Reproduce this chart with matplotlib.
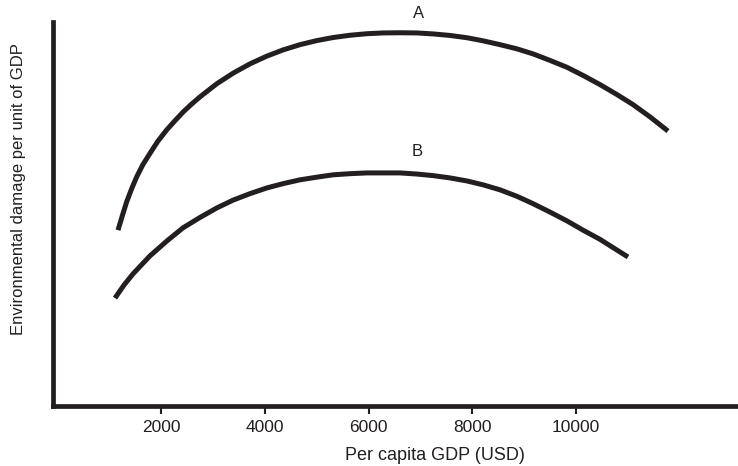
import numpy as np
import matplotlib.pyplot as plt

plt.rcParams['font.family'] = ['Liberation Sans', 'DejaVu Sans']

# curve A (upper)
gdp_a = [1170, 1257, 1338, 1431, 1531, 1652, 1787, 1941, 2109, 2269, 2429,
         2587, 2751, 3073, 3393, 3715, 4037, 4357, 4679, 5001, 5315, 5643,
         5971, 6280, 6607, 6935, 7243, 7571, 7899, 8208, 8535, 8863, 9171,
         9499, 9827, 10135, 10463, 10791, 11099, 11427, 11774]
damage_a = [45.8, 49.7, 53.2, 56.5, 59.7, 62.9, 65.8, 69.0, 71.9, 74.3, 76.6,
            78.6, 80.5, 83.9, 86.7, 89.1, 91.1, 92.75, 94.1, 95.15, 95.95, 96.55,
            96.95, 97.15, 97.2, 97.15, 96.9, 96.5, 95.9, 95.1, 94.1, 93.0, 91.7,
            90.0, 88.2, 86.1, 83.7, 81.1, 78.5, 75.3, 71.6]

# curve B (lower)
gdp_b = [1112, 1286, 1459, 1787, 2115, 2424, 2751, 3079, 3387, 3715, 4043,
         4352, 4679, 5007, 5315, 5643, 5971, 6280, 6607, 6935, 7243, 7571,
         7899, 8208, 8535, 8863, 9171, 9499, 9827, 10135, 10463, 10733, 11003]
damage_b = [28.1, 31.5, 34.4, 39.1, 43.0, 46.4, 49.1, 51.6, 53.6, 55.3, 56.8,
            57.9, 58.9, 59.6, 60.2, 60.5, 60.7, 60.7, 60.7, 60.4, 60.0, 59.4,
            58.6, 57.6, 56.3, 54.6, 52.7, 50.5, 48.2, 45.8, 43.4, 41.1, 38.8]

xticks = [2000, 4000, 6000, 8000, 10000]
ink = '#231f20'

fig = plt.figure(figsize=(7.38, 4.66), dpi=100, facecolor='white')
ax = fig.add_axes([53 / 738, 60 / 466, 685 / 738, 384 / 466])

ax.plot(gdp_a, damage_a, color=ink, lw=3.6, solid_capstyle='butt', solid_joinstyle='round')
ax.plot(gdp_b, damage_b, color=ink, lw=3.6, solid_capstyle='butt', solid_joinstyle='round')

# curve names above the peaks
ax.text(6955, 102.3, 'A', ha='center', va='center', fontsize=12, color=ink)
ax.text(6935, 66.4, 'B', ha='center', va='center', fontsize=12, color=ink)

ax.set_xlim(-83, 13124)
ax.set_ylim(0, 100)

for side in ['top', 'right']:
    ax.spines[side].set_visible(False)
for side in ['left', 'bottom']:
    ax.spines[side].set_linewidth(3.4)
    ax.spines[side].set_color(ink)
    ax.spines[side].set_capstyle('projecting')

ax.set_xticks(xticks)
ax.set_xticklabels([str(t) for t in xticks])
ax.set_yticks([])
ax.tick_params(axis='x', direction='out', length=6, width=1.5, color=ink,
               pad=4, labelsize=12.5, labelcolor=ink)

ax.set_xlabel('Per capita GDP (USD)', fontsize=13, color=ink)
ax.xaxis.set_label_coords(0.558, -0.128)
ax.xaxis.label.set_va('center')
ax.set_ylabel('Environmental damage per unit of GDP', fontsize=12, color=ink)
ax.yaxis.set_label_coords(-0.051, 0.565)
ax.yaxis.label.set_va('center')

plt.savefig('out.png', dpi=100, facecolor='white')
